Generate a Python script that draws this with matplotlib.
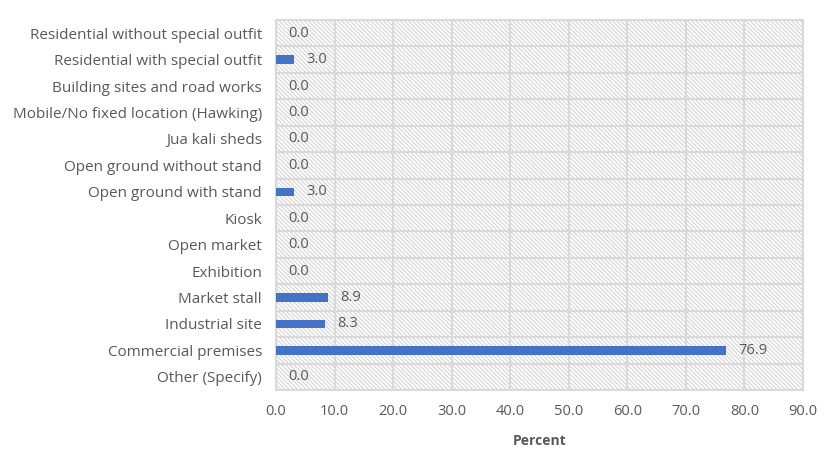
import matplotlib
matplotlib.use("Agg")
import matplotlib.pyplot as plt
from matplotlib.patches import Rectangle
import numpy as np

categories = [
    "Residential without special outfit",
    "Residential with special outfit",
    "Building sites and road works",
    "Mobile/No fixed location (Hawking)",
    "Jua kali sheds",
    "Open ground without stand",
    "Open ground with stand",
    "Kiosk",
    "Open market",
    "Exhibition",
    "Market stall",
    "Industrial site",
    "Commercial premises",
    "Other (Specify)",
]
percent = [0.0, 3.0, 0.0, 0.0, 0.0, 0.0, 3.0, 0.0, 0.0, 0.0, 8.9, 8.3, 76.9, 0.0]
xticks = [0, 10, 20, 30, 40, 50, 60, 70, 80, 90]

plt.rcParams["font.family"] = ["Open Sans", "DejaVu Sans"]
plt.rcParams["hatch.linewidth"] = 0.8
plt.rcParams["hatch.color"] = "#d4d4d4"

text_col = "#595959"
grid_col = "#d9d9d9"
bar_col = "#4472C4"

fig = plt.figure(figsize=(8.34, 4.69), dpi=100)
ax = fig.add_axes([276 / 834, 1 - 390 / 469, (803 - 276) / 834, (390 - 20) / 469])

y = np.arange(len(categories))
ax.set_xlim(0, 90)
ax.set_ylim(len(categories) - 0.5, -0.5)

# hatched plot background
ax.add_patch(Rectangle((0, 0), 1, 1, transform=ax.transAxes, facecolor="white",
                       edgecolor="#d4d4d4", hatch="\\" * 8, linewidth=0, zorder=0))

ax.barh(y, percent, height=0.32, color=bar_col, zorder=3)

for yi, v in zip(y, percent):
    ax.annotate(f"{v:.1f}", xy=(v, yi), xytext=(9, 0), textcoords="offset points",
                va="center", ha="left", fontsize=10.5, color=text_col, zorder=4)

ax.set_xticks(xticks)
ax.set_xticklabels([f"{t:.1f}" for t in xticks])
ax.set_yticks(y)
ax.set_yticklabels(categories)
ax.set_yticks(np.arange(len(categories) + 1) - 0.5, minor=True)

ax.grid(axis="x", which="major", color=grid_col, linewidth=1.5, zorder=1)
ax.grid(axis="y", which="minor", color=grid_col, linewidth=1.5, zorder=1)
ax.grid(axis="y", which="major", visible=False)
ax.set_axisbelow(True)

ax.tick_params(axis="both", which="both", length=0, colors=text_col)
ax.tick_params(axis="x", pad=10, labelsize=10.5)
ax.tick_params(axis="y", pad=10, labelsize=11)

for side, spine in ax.spines.items():
    spine.set_color(grid_col)
    spine.set_linewidth(1.5)

ax.set_xlabel("Percent", fontsize=10, fontweight="bold", color=text_col, labelpad=11)

fig.savefig("out.png", dpi=100)
